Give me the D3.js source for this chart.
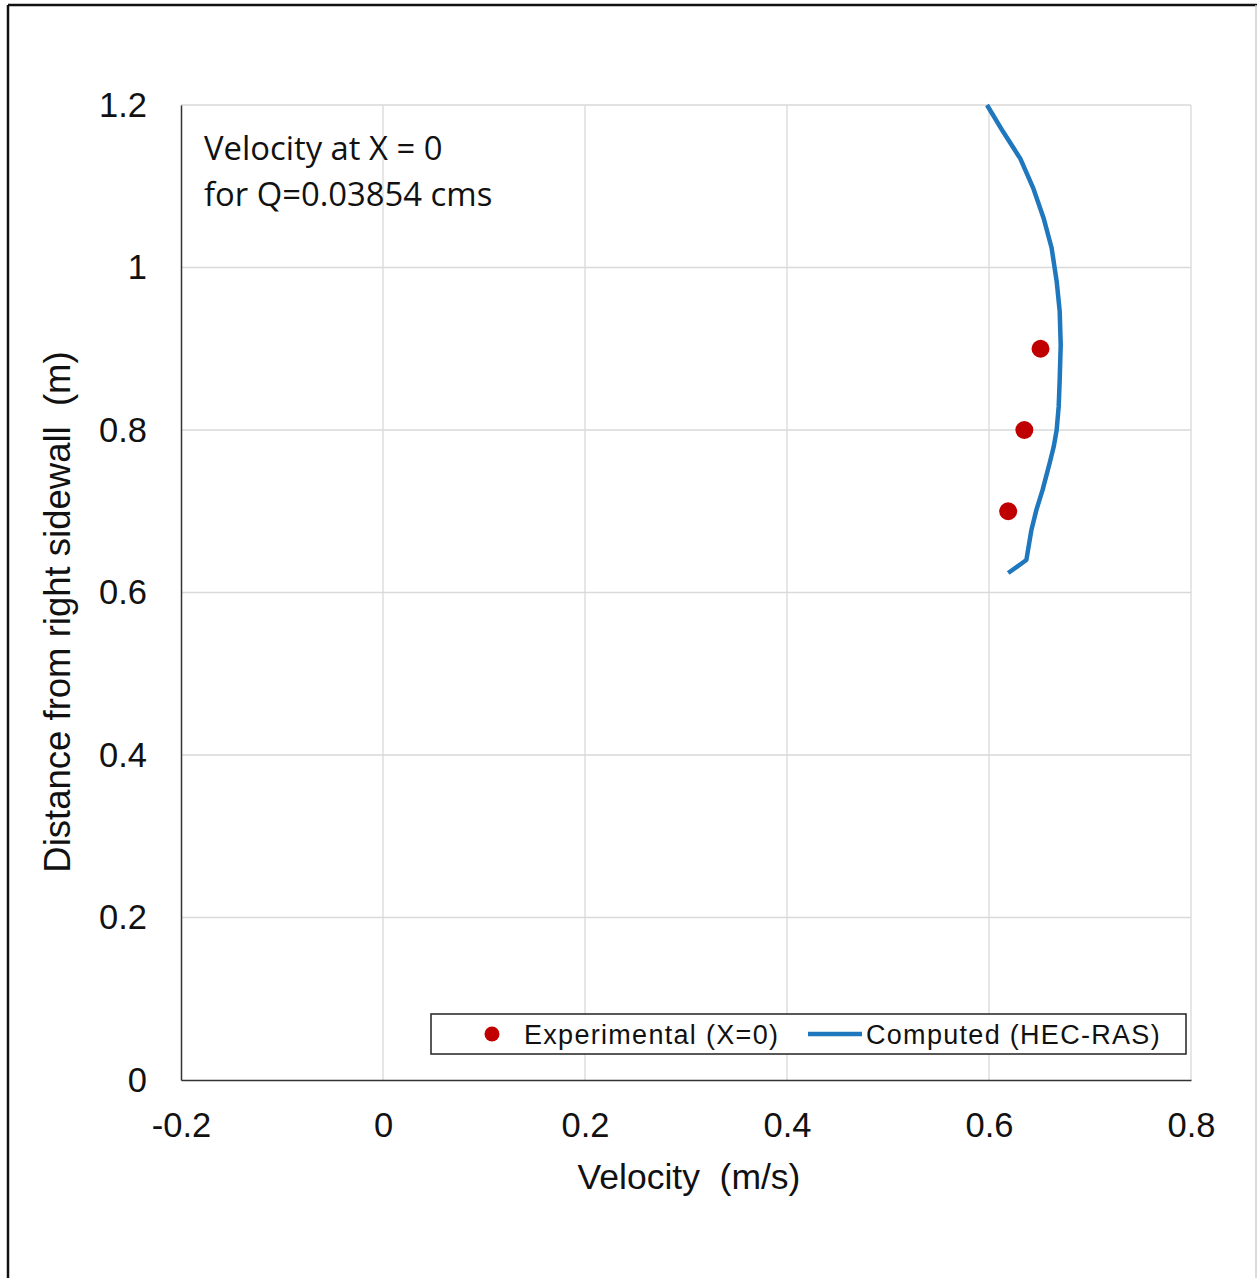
<!DOCTYPE html>
<html><head><meta charset="utf-8">
<script src="https://cdn.jsdelivr.net/npm/d3@7"></script>
<style>html,body{margin:0;padding:0;background:#fff;}</style>
</head><body>
<script>
// Data
const xTicks = [-0.2, 0, 0.2, 0.4, 0.6, 0.8];
const yTicks = [0, 0.2, 0.4, 0.6, 0.8, 1, 1.2];
const expVelocity = [0.651, 0.635, 0.619];
const expDistance = [0.900, 0.800, 0.700];
const compVelocity = [0.598, 0.614, 0.631, 0.644, 0.654, 0.662, 0.667, 0.670, 0.671, 0.670, 0.669, 0.667, 0.664, 0.660, 0.653, 0.647, 0.642, 0.637, 0.619];
const compDistance = [1.200, 1.167, 1.134, 1.097, 1.061, 1.024, 0.983, 0.946, 0.905, 0.862, 0.829, 0.800, 0.779, 0.759, 0.726, 0.702, 0.677, 0.640, 0.624];
const seriesNames = ["Experimental (X=0)", "Computed (HEC-RAS)"];
const annotation = ["Velocity at X = 0", "for Q=0.03854 cms"];

const W = 1257, H = 1278;
const svg = d3.select("body").append("svg").attr("width", W).attr("height", H);
svg.append("rect").attr("width", W).attr("height", H).attr("fill", "#fff");

// outer frame
svg.append("line").attr("x1", 8).attr("x2", 8).attr("y1", 5).attr("y2", H).attr("stroke", "#111").attr("stroke-width", 2.5);
svg.append("line").attr("x1", 8).attr("x2", W).attr("y1", 5).attr("y2", 5).attr("stroke", "#111").attr("stroke-width", 2.5);
svg.append("line").attr("x1", W - 1).attr("x2", W - 1).attr("y1", 5).attr("y2", H).attr("stroke", "#cfcfcf").attr("stroke-width", 1.5);

const L = 181, R = 1191, T = 105, B = 1080;
const x = d3.scaleLinear().domain([-0.2, 0.8]).range([L, R]);
const y = d3.scaleLinear().domain([0, 1.2]).range([B, T]);

// gridlines
const grid = svg.append("g");
grid.selectAll("line.v").data(xTicks.filter(d => d > -0.2)).join("line")
  .attr("x1", d => x(d)).attr("x2", d => x(d)).attr("y1", T).attr("y2", B)
  .attr("stroke", "#d9d9d9").attr("stroke-width", 1.3);
grid.selectAll("line.h").data(yTicks.filter(d => d > 0)).join("line")
  .attr("x1", L).attr("x2", R).attr("y1", d => y(d)).attr("y2", d => y(d))
  .attr("stroke", "#d9d9d9").attr("stroke-width", 1.3);

// axes
const fmt = d => (d === 0 ? "0" : String(d));
const xAxis = svg.append("g").attr("transform", `translate(0,${B})`)
  .call(d3.axisBottom(x).tickValues(xTicks).tickSize(0).tickPadding(33).tickFormat(fmt));
xAxis.select(".domain").attr("stroke", "#333").attr("stroke-width", 1.5);
xAxis.selectAll("text").attr("font-family", "Liberation Sans, Arial, sans-serif").attr("font-size", 34.5).attr("fill", "#111");

const yAxis = svg.append("g").attr("transform", `translate(${L},0)`)
  .call(d3.axisLeft(y).tickValues(yTicks).tickSize(0).tickPadding(34).tickFormat(fmt));
yAxis.select(".domain").attr("stroke", "#333").attr("stroke-width", 1.5);
yAxis.selectAll("text").attr("font-family", "Liberation Sans, Arial, sans-serif").attr("font-size", 34.5).attr("fill", "#111");

// axis titles
svg.append("text").attr("x", 689).attr("y", 1189).attr("text-anchor", "middle")
  .attr("font-family", "Liberation Sans, Arial, sans-serif").attr("font-size", 35.5).attr("fill", "#111")
  .attr("xml:space", "preserve").text("Velocity  (m/s)");
svg.append("text").attr("transform", "translate(70,612) rotate(-90)").attr("text-anchor", "middle")
  .attr("font-family", "Liberation Sans, Arial, sans-serif").attr("font-size", 36.5).attr("fill", "#111")
  .attr("xml:space", "preserve").text("Distance from right sidewall  (m)");

// computed line
const compData = compVelocity.map((v, i) => [v, compDistance[i]]);
svg.append("path").datum(compData)
  .attr("d", d3.line().x(d => x(d[0])).y(d => y(d[1])).curve(d3.curveLinear))
  .attr("fill", "none").attr("stroke", "#1f77bd").attr("stroke-width", 4.5).attr("stroke-linejoin", "round");

// experimental points
const expData = expVelocity.map((v, i) => [v, expDistance[i]]);
svg.selectAll("circle.exp").data(expData).join("circle")
  .attr("cx", d => x(d[0])).attr("cy", d => y(d[1])).attr("r", 9).attr("fill", "#c00000");

// annotation
svg.selectAll("text.ann").data(annotation).join("text")
  .attr("x", 204).attr("y", (d, i) => 160 + i * 46)
  .attr("font-family", "Open Sans, sans-serif").attr("font-size", 32.8).attr("fill", "#111")
  .text(d => d);

// legend
const lg = svg.append("g");
lg.append("rect").attr("x", 431).attr("y", 1014).attr("width", 755).attr("height", 40)
  .attr("fill", "#fff").attr("stroke", "#222").attr("stroke-width", 1.5);
lg.append("circle").attr("cx", 492).attr("cy", 1034).attr("r", 7.5).attr("fill", "#c00000");
lg.append("text").attr("x", 524).attr("y", 1044).attr("font-family", "Liberation Sans, Arial, sans-serif")
  .attr("font-size", 27).attr("letter-spacing", 1.3).attr("fill", "#111").text(seriesNames[0]);
lg.append("line").attr("x1", 808).attr("x2", 862).attr("y1", 1034).attr("y2", 1034)
  .attr("stroke", "#1f77bd").attr("stroke-width", 4.5);
lg.append("text").attr("x", 866).attr("y", 1044).attr("font-family", "Liberation Sans, Arial, sans-serif")
  .attr("font-size", 27).attr("letter-spacing", 1.3).attr("fill", "#111").text(seriesNames[1]);
</script>
</body></html>
